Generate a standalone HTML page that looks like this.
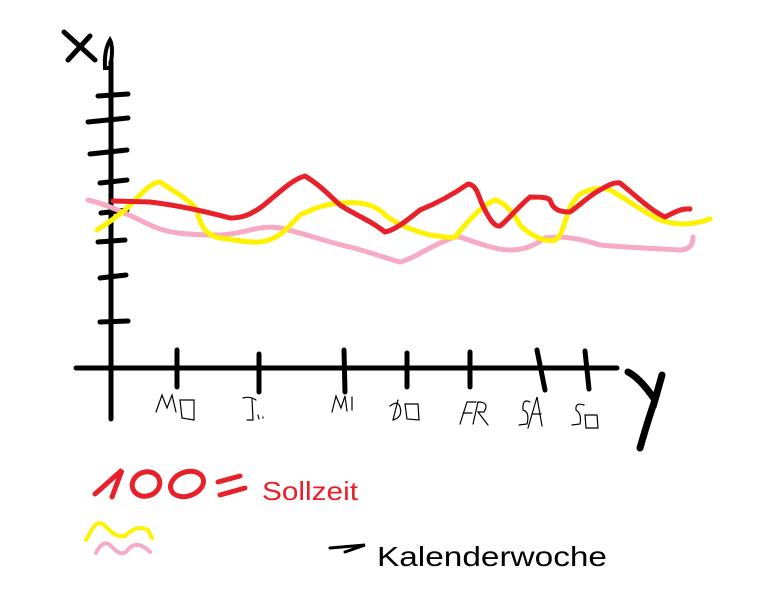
<!DOCTYPE html>
<html><head><style>
html,body{margin:0;padding:0;background:#fff;width:769px;height:593px;overflow:hidden}
svg{display:block}
</style></head><body>
<svg width="769" height="593" viewBox="0 0 769 593" xmlns="http://www.w3.org/2000/svg">
<g stroke="#000" stroke-linecap="round" fill="none">
<!-- axes -->
<line x1="111" y1="62" x2="111" y2="419" stroke-width="5"/>
<line x1="76" y1="368" x2="617" y2="368" stroke-width="5"/>
<!-- top of y axis loop -->
<path d="M105 68 Q104 50 110 40 Q114 48 110 68 Z" stroke-width="4"/>
<!-- X -->
<path d="M64 32 L95 60 M68 60 L90 36" stroke-width="5"/>
<!-- y ticks -->
<g stroke-width="5">
<path d="M98 96 L128 94"/><path d="M88 122 L128 118"/><path d="M90 154 L127 150"/>
<path d="M100 183 L127 180"/><path d="M101 213 L127 210"/><path d="M98 242 L125 240"/>
<path d="M100 278 L126 275"/><path d="M100 322 L128 321"/>
</g>
<!-- x ticks -->
<g stroke-width="5">
<line x1="177" y1="350" x2="177" y2="387"/><line x1="259" y1="354" x2="259" y2="392"/>
<line x1="344" y1="350" x2="345" y2="392"/><line x1="407" y1="353" x2="407" y2="387"/>
<line x1="470" y1="352" x2="470" y2="387"/><line x1="537" y1="350" x2="545" y2="390"/>
<line x1="585" y1="351" x2="589" y2="389"/>
</g>
<!-- Y letter -->
<path d="M628 372 Q640 378 655 400 L662 375 M655 400 Q648 420 640 448" stroke-width="7"/>
<!-- day labels -->
<g stroke-width="1.2">
<path d="M156 412 L162 395 L167 408 L172 395 L176 412"/><path d="M180 400 L194 400 L194 420 L182 418 Z"/>
<path d="M243 398 Q250 396 256 400 M252 399 L253 420 L247 420 M258 415 L259 419 M263 417 L263 418"/>
<path d="M332 412 L336 396 L341 408 L345 396 L347 411 M352 397 L352 410"/>
<path d="M390 406 Q398 400 400 407 Q403 417 393 420 L398 400 M405 404 L418 404 L419 420 L407 419 Z"/>
<path d="M460 424 L467 402 L476 402 M463 413 L472 413 M473 424 L478 402 Q490 402 484 412 L478 412 L488 425"/>
<path d="M530 402 Q522 398 523 410 Q530 412 527 424 L519 425 M528 428 L537 397 L542 426 M533 414 L541 414"/>
<path d="M584 405 Q575 402 576 410 Q582 414 580 424 L572 425 M585 415 L597 415 L598 428 L586 428 Z"/>
</g>
<!-- legend black dash -->
<path d="M330 548 L365 545 L345 552" stroke-width="3"/>
</g>
<!-- series -->
<g fill="none" stroke-linecap="round" stroke-linejoin="round" stroke-width="5">
<path stroke="#f7aac4" d="M88 200 C110 205 135 218 150 225 C165 232 180 235 220 235 C245 234 260 224 280 228 C300 232 330 243 350 247 C370 252 385 258 400 262 C412 259 425 250 440 243 C450 239 455 236 460 237 C475 242 495 250 510 250 C525 250 535 245 545 238 C560 236 575 237 600 245 C620 247 640 248 680 250 C690 249 693 245 693 237"/>
<path stroke="#fff200" d="M97 230 C110 222 120 214 125 210 C140 196 150 182 160 182 C175 192 190 200 197 210 C200 225 205 235 220 238 C235 240 250 243 260 242 C280 240 290 225 300 215 C315 208 325 204 340 203 C355 202 370 202 382 212 C392 222 410 230 430 235 C445 237 450 238 455 237 C465 225 480 206 495 200 C505 202 515 215 520 225 C530 235 545 243 555 240 C565 235 565 210 575 200 C580 190 600 186 610 190 C625 198 640 210 660 220 C675 225 690 226 710 219"/>
<path stroke="#e8202a" d="M113 201 L150 202 C175 205 200 210 230 218 C245 218 252 213 260 208 C275 197 290 180 305 176 C320 185 330 196 340 205 C355 215 370 220 385 232 C395 230 405 222 420 210 C440 202 455 193 468 184 C478 185 478 198 485 210 C490 220 495 227 500 226 C508 220 515 210 530 197 C545 197 548 198 550 200 C553 210 560 212 570 212 C580 205 590 195 600 190 C610 184 615 182 620 183 C635 195 650 210 665 217 C675 212 682 208 690 209"/>
</g>
<!-- legend -->
<g fill="none" stroke-linecap="round" stroke-width="5">
<path stroke="#fff200" d="M86 540 C92 530 95 520 103 524 C110 530 115 538 125 536 C133 528 140 526 148 530 L152 538" stroke-width="4"/>
<path stroke="#f7aac4" d="M96 553 C100 545 104 541 110 545 C115 550 120 556 126 552 C132 543 140 542 150 552" stroke-width="4"/>
<g stroke="#e8202a">
<path d="M95 494 L122 470 L112 497" stroke-width="5"/>
<ellipse cx="146" cy="484" rx="14" ry="12" transform="rotate(-20 146 484)"/>
<ellipse cx="187" cy="484" rx="17" ry="12" transform="rotate(-20 187 484)"/>
<path d="M218 482 L240 476 M220 495 L245 488" stroke-width="5"/>
</g>
</g>
<text x="262" y="500" font-family="Liberation Sans, sans-serif" font-size="26" fill="#e8202a" textLength="96" lengthAdjust="spacingAndGlyphs">Sollzeit</text>
<text x="377" y="566" font-family="Liberation Sans, sans-serif" font-size="28" fill="#000" textLength="230" lengthAdjust="spacingAndGlyphs">Kalenderwoche</text>
</svg>
</body></html>
